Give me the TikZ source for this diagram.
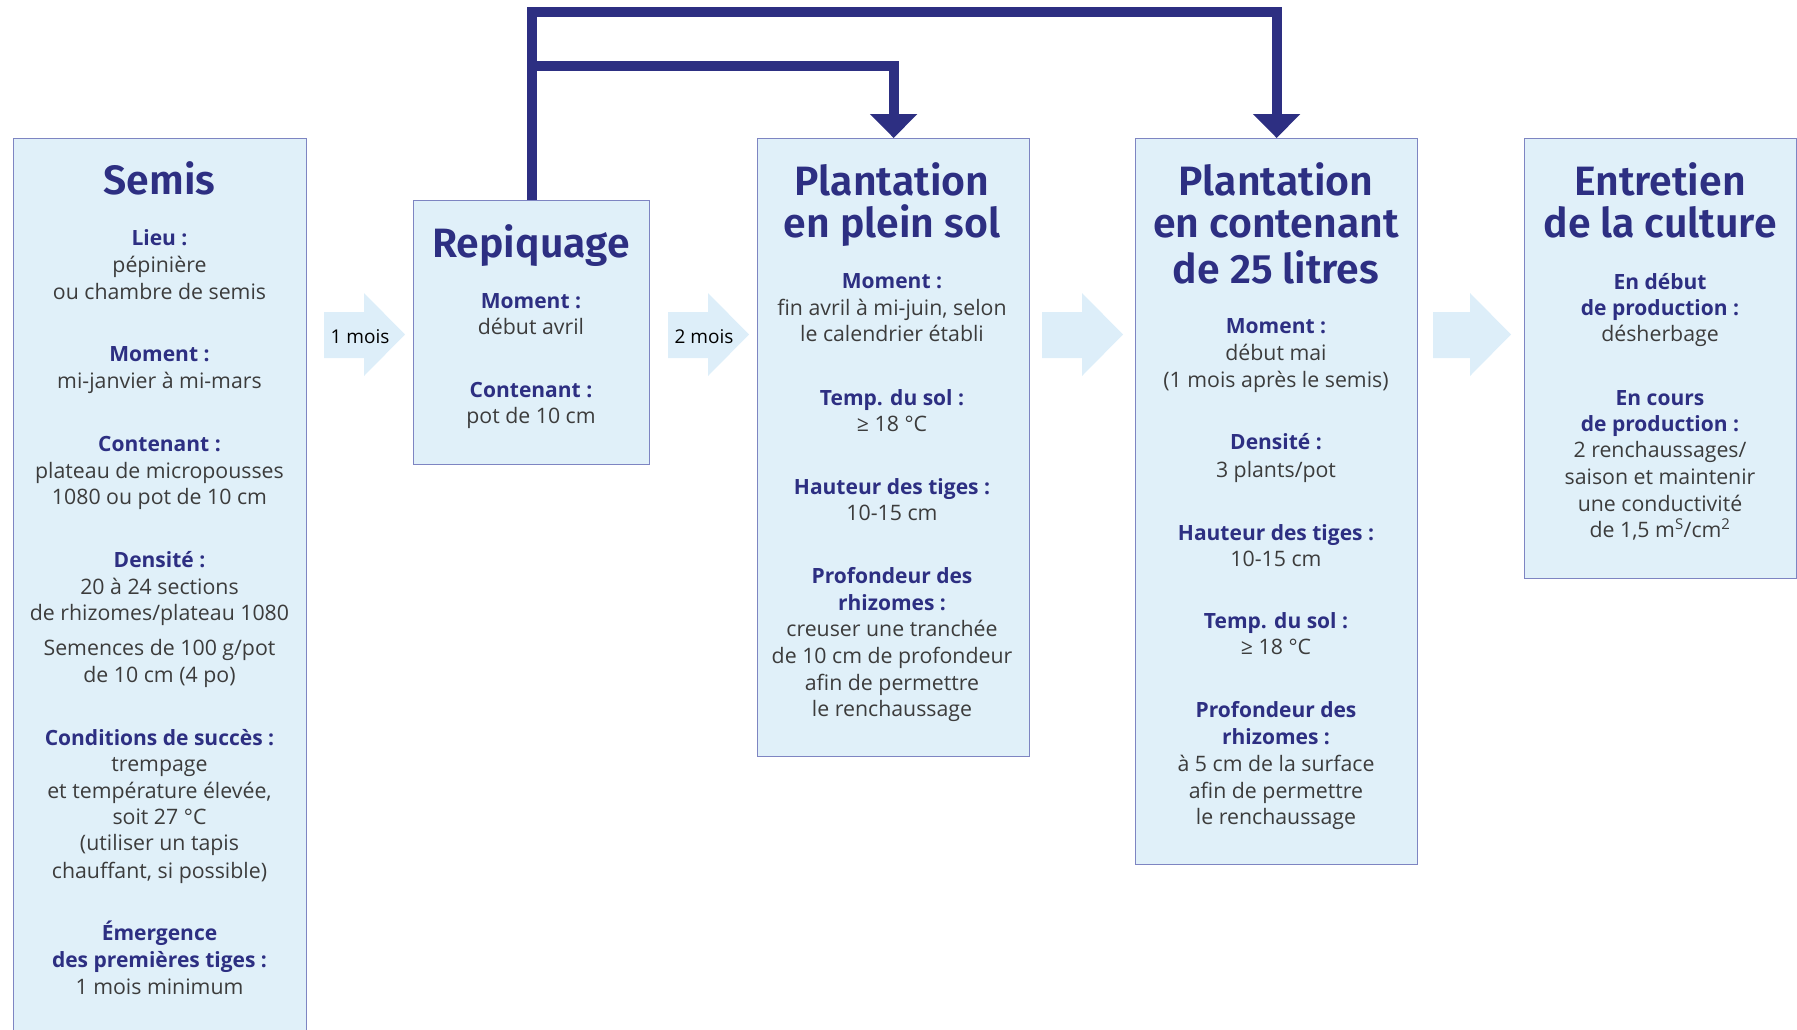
\documentclass[tikz,border=0pt]{standalone}
\usepackage{fontspec}
\setmainfont{Open Sans}
\newfontfamily\titlefont{Fira Sans SemiBold}
\usetikzlibrary{arrows.meta}
\definecolor{navy}{HTML}{2D2F82}
\definecolor{boxfill}{HTML}{E0F0F9}
\definecolor{boxline}{HTML}{7E85C2}
\definecolor{arrfill}{HTML}{DDEEF9}
\definecolor{bodygrey}{HTML}{3C3C3C}
\tikzset{
  box/.style={draw=boxline, line width=1.3pt, fill=boxfill, anchor=north west, inner sep=0pt},
  ttl/.style={anchor=base, inner sep=0pt, text=navy, font=\fontsize{41}{46}\titlefont},
  lab/.style={anchor=base, inner sep=0pt, text=navy, font=\fontsize{21}{26}\selectfont\bfseries},
  txt/.style={anchor=base, inner sep=0pt, text=bodygrey, font=\fontsize{21.3}{26}\selectfont},
  alab/.style={anchor=base, inner sep=0pt, text=black, font=\fontsize{19}{23}\selectfont},
  conn/.style={draw=navy, line width=10pt, line join=miter, -{Triangle[length=24pt,width=46pt]}},
  barr/.style={fill=arrfill, draw=none}
}
\newcommand\myblockarrow[2]{% #1 = left x, #2 = head start x
  \fill[barr] (#1,312) -- (#2,312) -- (#2,293) -- ({#2+41},334.5) -- (#2,376) -- (#2,358) -- (#1,358) -- cycle;}
\begin{document}
\begin{tikzpicture}[x=1pt,y=-1pt]
\useasboundingbox (0,0) rectangle (1797,1029);
% boxes
\node[box, minimum width=293pt, minimum height=900pt] (semis) at (13,138) {};
\node[box, minimum width=236pt, minimum height=264pt] (rep) at (413,200) {};
\node[box, minimum width=272pt, minimum height=618pt] (sol) at (757,138) {};
\node[box, minimum width=282pt, minimum height=726pt] (cont) at (1135,138) {};
\node[box, minimum width=272pt, minimum height=440pt] (entr) at (1524,138) {};
% block arrows
\myblockarrow{324}{364}
\myblockarrow{668}{708}
\myblockarrow{1042}{1082}
\myblockarrow{1433}{1470}
\node[alab] (m1) at (360,343) {1 mois};
\node[alab] (m2) at (704,343) {2 mois};
% connectors
\coordinate (top) at (rep.north |- 0,12);
\coordinate (br) at (rep.north |- 0,66);
\draw[conn] (rep.north) -- (top) -- (cont.north |- top) -- (cont.north);
\draw[conn] (br) -- (sol.north |- br) -- (sol.north);
% Semis
\node[ttl] (s0) at (159.5,194) {Semis};
\node[lab] (s1) at (159.5,245) {Lieu :};
\node[txt] (s2) at (159.5,272) {pépinière};
\node[txt] (s3) at (159.5,299) {ou chambre de semis};
\node[lab] (s4) at (159.5,361) {Moment :};
\node[txt] (s5) at (159.5,388) {mi-janvier à mi-mars};
\node[lab] (s6) at (159.5,451) {Contenant :};
\node[txt] (s7) at (159.5,478) {plateau de micropousses};
\node[txt] (s8) at (159.5,504) {1080 ou pot de 10 cm};
\node[lab] (s9) at (159.5,567) {Densité :};
\node[txt] (s10) at (159.5,594) {20 à 24 sections};
\node[txt] (s11) at (159.5,620) {de rhizomes/plateau 1080};
\node[txt] (s12) at (159.5,655) {Semences de 100 g/pot};
\node[txt] (s13) at (159.5,682) {de 10 cm (4 po)};
\node[lab] (s14) at (159.5,745) {Conditions de succès :};
\node[txt] (s15) at (159.5,771) {trempage};
\node[txt] (s16) at (159.5,798) {et température élevée,};
\node[txt] (s17) at (159.5,824) {soit 27 °C};
\node[txt] (s18) at (159.5,850) {(utiliser un tapis};
\node[txt] (s19) at (159.5,878) {chauffant, si possible)};
\node[lab] (s20) at (159.5,940) {Émergence};
\node[lab] (s21) at (159.5,967) {des premières tiges :};
\node[txt] (s22) at (159.5,994) {1 mois minimum};
% Repiquage
\node[ttl] (r0) at (531,257) {Repiquage};
\node[lab] (r1) at (531,308) {Moment :};
\node[txt] (r2) at (531,334) {début avril};
\node[lab] (r3) at (531,397) {Contenant :};
\node[txt] (r4) at (531,423) {pot de 10 cm};
% Plantation en plein sol
\node[ttl] (p0) at (892,195) {Plantation};
\node[ttl] (p1) at (892,237) {en plein sol};
\node[lab] (p2) at (892,288) {Moment :};
\node[txt] (p3) at (892,315) {fin avril à mi-juin, selon};
\node[txt] (p4) at (892,341) {le calendrier établi};
\node[lab] (p5) at (892,405) {Temp. du sol :};
\node[txt] (p6) at (892,431) {≥ 18 °C};
\node[lab] (p7) at (892,494) {Hauteur des tiges :};
\node[txt] (p8) at (892,520) {10-15 cm};
\node[lab] (p9) at (892,583) {Profondeur des};
\node[lab] (p10) at (892,610) {rhizomes :};
\node[txt] (p11) at (892,636) {creuser une tranchée};
\node[txt] (p12) at (892,663) {de 10 cm de profondeur};
\node[txt] (p13) at (892,690) {afin de permettre};
\node[txt] (p14) at (892,716) {le renchaussage};
% Plantation en contenant
\node[ttl] (c0) at (1276,195) {Plantation};
\node[ttl] (c1) at (1276,237) {en contenant};
\node[ttl] (c2) at (1276,283) {de 25 litres};
\node[lab] (c3) at (1276,333) {Moment :};
\node[txt] (c4) at (1276,360) {début mai};
\node[txt] (c5) at (1276,387) {(1 mois après le semis)};
\node[lab] (c6) at (1276,449) {Densité :};
\node[txt] (c7) at (1276,477) {3 plants/pot};
\node[lab] (c8) at (1276,540) {Hauteur des tiges :};
\node[txt] (c9) at (1276,566) {10-15 cm};
\node[lab] (c10) at (1276,628) {Temp. du sol :};
\node[txt] (c11) at (1276,654) {≥ 18 °C};
\node[lab] (c12) at (1276,717) {Profondeur des};
\node[lab] (c13) at (1276,744) {rhizomes :};
\node[txt] (c14) at (1276,771) {à 5 cm de la surface};
\node[txt] (c15) at (1276,798) {afin de permettre};
\node[txt] (c16) at (1276,824) {le renchaussage};
% Entretien
\node[ttl] (e0) at (1660,195) {Entretien};
\node[ttl] (e1) at (1660,237) {de la culture};
\node[lab] (e2) at (1660,289) {En début};
\node[lab] (e3) at (1660,315) {de production :};
\node[txt] (e4) at (1660,341) {désherbage};
\node[lab] (e5) at (1660,405) {En cours};
\node[lab] (e6) at (1660,431) {de production :};
\node[txt] (e7) at (1660,457) {2 renchaussages/};
\node[txt] (e8) at (1660,484) {saison et maintenir};
\node[txt] (e9) at (1660,511) {une conductivité};
\node[txt] (e10) at (1660,537) {de 1,5 m\textsuperscript{S}/cm\textsuperscript{2}};
\end{tikzpicture}
\end{document}
